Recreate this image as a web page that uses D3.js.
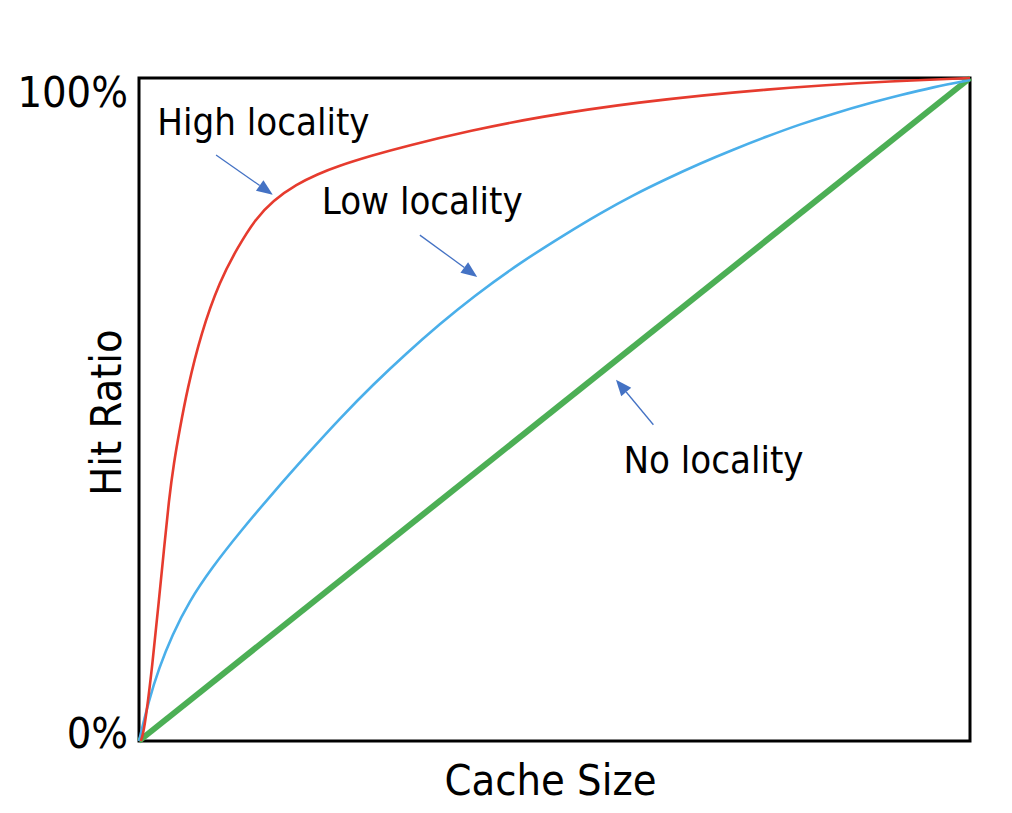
<!DOCTYPE html>
<html>
<head>
<meta charset="utf-8">
<script src="https://cdn.jsdelivr.net/npm/d3@7"></script>
<style>
  html, body { margin: 0; padding: 0; background: #fff; }
  svg { display: block; }
  text { font-family: "DejaVu Sans Condensed", "DejaVu Sans", sans-serif; font-stretch: condensed; fill: #000; }
</style>
</head>
<body>
<svg id="chart" width="1012" height="813"></svg>
<script>
// ---- data (x = cache size fraction, y = hit ratio fraction) ----
const highLocality = [
  [0.002, 0], [0.006, 0.012], [0.016, 0.112], [0.024, 0.213], [0.030, 0.288],
  [0.036, 0.364], [0.042, 0.420], [0.049, 0.470], [0.058, 0.530], [0.0746, 0.615],
  [0.0975, 0.695], [0.119, 0.745], [0.140, 0.787], [0.161, 0.815], [0.190, 0.840],
  [0.215, 0.855], [0.239, 0.867], [0.280, 0.883], [0.320, 0.897], [0.400, 0.921],
  [0.480, 0.941], [0.594, 0.963], [0.756, 0.984], [0.916, 0.996], [1, 1]
];
const lowLocality = [
  [0, 0], [0.012, 0.062], [0.024, 0.110], [0.040, 0.160], [0.060, 0.210],
  [0.088, 0.262], [0.122, 0.316], [0.161, 0.374], [0.202, 0.432], [0.242, 0.487],
  [0.282, 0.538], [0.322, 0.585], [0.362, 0.629], [0.402, 0.670], [0.458, 0.721],
  [0.515, 0.766], [0.555, 0.796], [0.594, 0.823], [0.635, 0.848], [0.675, 0.871],
  [0.715, 0.892], [0.756, 0.912], [0.795, 0.930], [0.835, 0.946], [0.876, 0.961],
  [0.916, 0.974], [0.955, 0.986], [1, 0.997]
];
const noLocality = [[0, 0], [1, 1]];

const yTickValues = [0, 1];
const yTickLabels = ["0%", "100%"];
const xTitle = "Cache Size";
const yTitle = "Hit Ratio";

const annotationLabels = ["High locality", "Low locality", "No locality"];
const annotationAnchors = [[0.022, 0.914], [0.220, 0.795], [0.583, 0.404]];
const arrowStarts = [[0.0927, 0.884], [0.338, 0.763], [0.619, 0.477]];
const arrowTips = [[0.161, 0.824], [0.407, 0.700], [0.574, 0.545]];

// ---- layout ----
const svg = d3.select("#chart");
const mLeft = 139, mRight = 970, mTop = 78, mBottom = 741;
const x = d3.scaleLinear().domain([0, 1]).range([mLeft, mRight]);
const y = d3.scaleLinear().domain([0, 1]).range([mBottom, mTop]);

// frame
svg.append("rect")
  .attr("x", x(0)).attr("y", y(1))
  .attr("width", x(1) - x(0)).attr("height", y(0) - y(1))
  .attr("fill", "none").attr("stroke", "#000").attr("stroke-width", 3);

// tick labels
const tickDy = [7, 29];
svg.selectAll(".ytick").data(yTickValues).enter().append("text")
  .attr("class", "ytick")
  .attr("x", x(0) - 11)
  .attr("y", (d, i) => y(d) + tickDy[i])
  .attr("text-anchor", "end")
  .attr("font-size", 43)
  .text((d, i) => yTickLabels[i]);

// axis titles
svg.append("text")
  .attr("x", (x(0) + x(1)) / 2 - 4)
  .attr("y", 795)
  .attr("text-anchor", "middle")
  .attr("font-size", 43)
  .text(xTitle);
svg.append("text")
  .attr("transform", `translate(121, ${(y(0) + y(1)) / 2 + 3}) rotate(-90)`)
  .attr("text-anchor", "middle")
  .attr("font-size", 43)
  .text(yTitle);

// curves
const line = d3.line().x(d => x(d[0])).y(d => y(d[1])).curve(d3.curveBasis);
svg.append("path").datum(noLocality).attr("d", line)
  .attr("fill", "none").attr("stroke", "#4CAF55").attr("stroke-width", 6);
svg.append("path").datum(lowLocality).attr("d", line)
  .attr("fill", "none").attr("stroke", "#4AAFEA").attr("stroke-width", 2.6);
svg.append("path").datum(highLocality).attr("d", line)
  .attr("fill", "none").attr("stroke", "#E63B2E").attr("stroke-width", 2.6);

// annotation labels
svg.selectAll(".ann").data(annotationLabels).enter().append("text")
  .attr("class", "ann")
  .attr("x", (d, i) => x(annotationAnchors[i][0]))
  .attr("y", (d, i) => y(annotationAnchors[i][1]))
  .attr("font-size", 38)
  .text(d => d);

// arrows
const arrowColor = "#4472C4";
arrowStarts.forEach((s, i) => {
  const t = arrowTips[i];
  const x1 = x(s[0]), y1 = y(s[1]), x2 = x(t[0]), y2 = y(t[1]);
  const ang = Math.atan2(y2 - y1, x2 - x1);
  const hl = 16, hw = 6.5;
  const bx = x2 - hl * Math.cos(ang), by = y2 - hl * Math.sin(ang);
  svg.append("line")
    .attr("x1", x1).attr("y1", y1).attr("x2", bx).attr("y2", by)
    .attr("stroke", arrowColor).attr("stroke-width", 1.3);
  const px = -Math.sin(ang), py = Math.cos(ang);
  svg.append("path")
    .attr("d", `M${x2},${y2}L${bx + px * hw},${by + py * hw}L${bx - px * hw},${by - py * hw}Z`)
    .attr("fill", arrowColor);
});
</script>
</body>
</html>
